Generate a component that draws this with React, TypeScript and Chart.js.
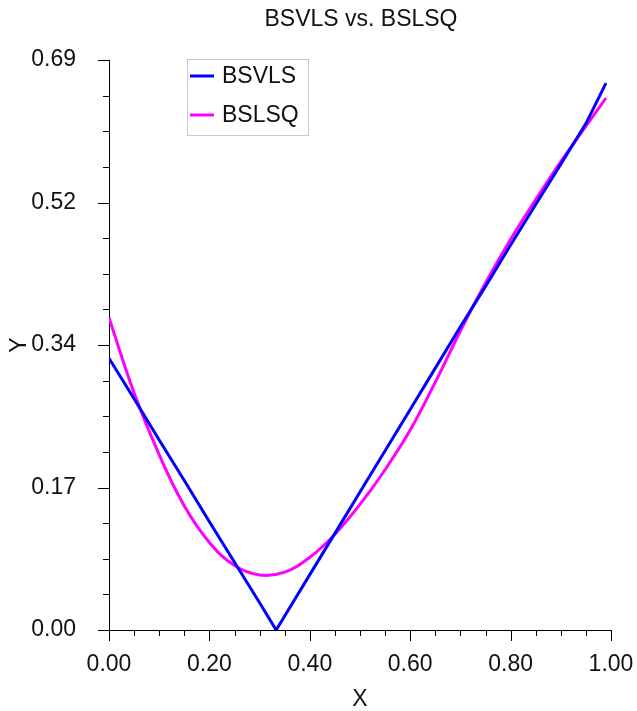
import React, { useEffect, useRef } from "react";
import { Chart, registerables } from "chart.js";

Chart.register(...registerables);

const bsvlsX = [0, 0.05, 0.1, 0.15, 0.2, 0.25, 0.3, 0.333, 0.35, 0.4, 0.45, 0.5, 0.55, 0.6, 0.65, 0.7, 0.75, 0.8, 0.85, 0.9, 0.95, 0.99];
const bsvlsValues = [0.329, 0.28, 0.23, 0.181, 0.131, 0.082, 0.033, 0.0, 0.017, 0.067, 0.117, 0.167, 0.217, 0.267, 0.317, 0.367, 0.416, 0.466, 0.515, 0.564, 0.613, 0.662];
const bslsqX = [0, 0.05, 0.1, 0.15, 0.2, 0.25, 0.3, 0.35, 0.4, 0.45, 0.5, 0.55, 0.6, 0.65, 0.7, 0.75, 0.8, 0.85, 0.9, 0.95, 0.99];
const bslsqValues = [0.378, 0.287, 0.212, 0.15, 0.106, 0.078, 0.0666, 0.07, 0.088, 0.116, 0.152, 0.194, 0.242, 0.3, 0.362, 0.42, 0.473, 0.521, 0.567, 0.61, 0.644];
const seriesNames = ["BSVLS", "BSLSQ"];
const seriesColors = ["#0000ff", "#ff00ff"];
const yTickValues = [0, 0.1725, 0.345, 0.5175, 0.69];
const yTickLabels = ["0.00", "0.17", "0.34", "0.52", "0.69"];
const xTickValues = [0, 0.2, 0.4, 0.6, 0.8, 1.0];
const xTickLabels = ["0.00", "0.20", "0.40", "0.60", "0.80", "1.00"];
const chartTitle = "BSVLS vs. BSLSQ";
const xTitle = "X";
const yTitle = "Y";

const FONT = '"Liberation Sans", Arial, sans-serif';
const FS = 23;

const decorPlugin = {
  id: "decor",
  afterDraw(chart: any) {
    const ctx = chart.ctx;
    const xs = chart.scales.x;
    const ys = chart.scales.y;
    const area = chart.chartArea;
    ctx.save();
    ctx.strokeStyle = "#000";
    ctx.lineWidth = 1;
    // y ticks
    for (let i = 0; i < yTickValues.length; i++) {
      const py = Math.round(ys.getPixelForValue(yTickValues[i])) + 0.5;
      ctx.beginPath();
      ctx.moveTo(area.left - 11, py);
      ctx.lineTo(area.left, py);
      ctx.stroke();
      if (i < yTickValues.length - 1) {
        const step = (yTickValues[i + 1] - yTickValues[i]) / 4;
        for (let k = 1; k < 4; k++) {
          const my = Math.round(ys.getPixelForValue(yTickValues[i] + k * step)) + 0.5;
          ctx.beginPath();
          ctx.moveTo(area.left - 6, my);
          ctx.lineTo(area.left, my);
          ctx.stroke();
        }
      }
    }
    // x ticks
    for (let i = 0; i < xTickValues.length; i++) {
      const px = Math.round(xs.getPixelForValue(xTickValues[i])) + 0.5;
      ctx.beginPath();
      ctx.moveTo(px, area.bottom);
      ctx.lineTo(px, area.bottom + 11);
      ctx.stroke();
      if (i < xTickValues.length - 1) {
        const step = (xTickValues[i + 1] - xTickValues[i]) / 4;
        for (let k = 1; k < 4; k++) {
          const mx = Math.round(xs.getPixelForValue(xTickValues[i] + k * step)) + 0.5;
          ctx.beginPath();
          ctx.moveTo(mx, area.bottom);
          ctx.lineTo(mx, area.bottom + 6);
          ctx.stroke();
        }
      }
    }
    // titles
    ctx.fillStyle = "#111";
    ctx.font = `${FS}px ${FONT}`;
    ctx.textAlign = "center";
    ctx.textBaseline = "middle";
    ctx.fillText(chartTitle, 361, 20);
    ctx.fillText(xTitle, (area.left + area.right) / 2, 700);
    ctx.save();
    ctx.translate(20, (area.top + area.bottom) / 2);
    ctx.rotate(-Math.PI / 2);
    ctx.fillText(yTitle, 0, 0);
    ctx.restore();
    // legend
    const lx = 187, ly = 59, lw = 121, lh = 76;
    ctx.fillStyle = "#fff";
    ctx.fillRect(lx, ly, lw, lh);
    ctx.strokeStyle = "#c8c8c8";
    ctx.lineWidth = 1;
    ctx.strokeRect(lx + 0.5, ly + 0.5, lw, lh);
    ctx.textAlign = "left";
    chart.data.datasets.forEach((ds: any, i: number) => {
      const cy = ly + 17 + i * 39;
      ctx.strokeStyle = ds.borderColor;
      ctx.lineWidth = 3;
      ctx.beginPath();
      ctx.moveTo(lx + 3, cy);
      ctx.lineTo(lx + 27, cy);
      ctx.stroke();
      ctx.fillStyle = "#111";
      ctx.fillText(ds.label, lx + 35, cy + 1);
    });
    ctx.restore();
  },
};

export default function App() {
  const ref = useRef<HTMLCanvasElement>(null);
  useEffect(() => {
    if (!ref.current) return;
    const chart = new Chart(ref.current, {
      type: "line",
      data: {
        datasets: [
          {
            label: seriesNames[0],
            data: bsvlsX.map((x, i) => ({ x, y: bsvlsValues[i] })),
            borderColor: seriesColors[0],
            backgroundColor: seriesColors[0],
            borderWidth: 3,
            pointRadius: 0,
            tension: 0,
          },
          {
            label: seriesNames[1],
            data: bslsqX.map((x, i) => ({ x, y: bslsqValues[i] })),
            borderColor: seriesColors[1],
            backgroundColor: seriesColors[1],
            borderWidth: 3,
            pointRadius: 0,
            tension: 0.4,
          },
        ],
      },
      options: {
        animation: false,
        responsive: false,
        layout: { padding: { top: 60, right: 26, left: 0, bottom: 0 } },
        plugins: {
          legend: { display: false },
          title: { display: false },
          tooltip: { enabled: false },
        },
        scales: {
          x: {
            type: "linear",
            min: 0,
            max: 1,
            grid: { display: false },
            border: { display: true, color: "#000", width: 1 },
            afterBuildTicks: (s: any) => {
              s.ticks = xTickValues.map((v) => ({ value: v }));
            },
            afterFit: (s: any) => {
              s.height = 81;
              s.paddingLeft = 0;
              s.paddingRight = 0;
            },
            ticks: {
              autoSkip: false,
              maxRotation: 0,
              padding: 13,
              color: "#111",
              font: { family: FONT, size: FS },
              callback: (_v: any, i: number) => xTickLabels[i],
            },
          },
          y: {
            type: "linear",
            min: 0,
            max: 0.69,
            grid: { display: false },
            border: { display: true, color: "#000", width: 1 },
            afterBuildTicks: (s: any) => {
              s.ticks = yTickValues.map((v) => ({ value: v }));
            },
            afterFit: (s: any) => {
              s.width = 109;
              s.paddingTop = 0;
              s.paddingBottom = 0;
            },
            ticks: {
              autoSkip: false,
              padding: 25,
              color: "#111",
              font: { family: FONT, size: FS },
              callback: (_v: any, i: number) => yTickLabels[i],
            },
          },
        },
      },
      plugins: [decorPlugin],
    } as any);
    return () => chart.destroy();
  }, []);
  return (
    <div style={{ position: "absolute", left: 0, top: 0, width: 637, height: 711, background: "#fff" }}>
      <canvas ref={ref} width={637} height={711} style={{ display: "block" }} />
    </div>
  );
}
